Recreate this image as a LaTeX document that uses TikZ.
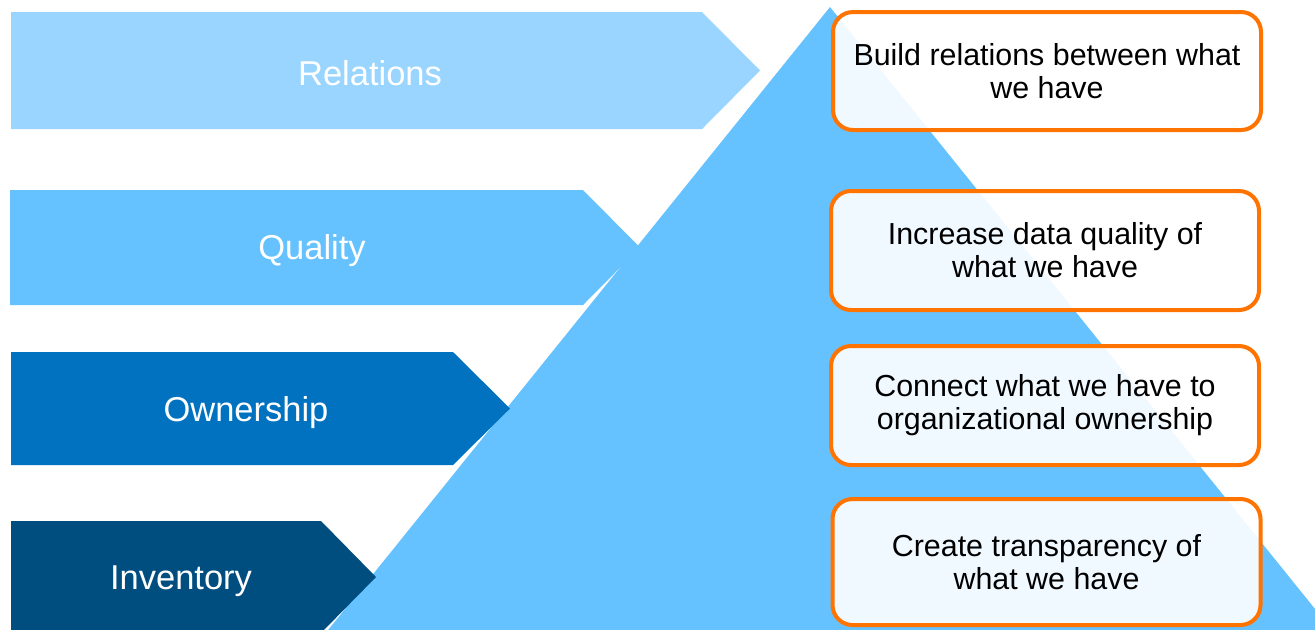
\documentclass[tikz,border=0pt]{standalone}
\usepackage{fontspec}
\setmainfont{Liberation Sans}
\definecolor{relc}{HTML}{99D5FF}
\definecolor{qualc}{HTML}{66C2FF}
\definecolor{ownc}{HTML}{0072BF}
\definecolor{invc}{HTML}{004E80}
\definecolor{boxorange}{HTML}{FF7300}
\begin{document}
\begin{tikzpicture}[x=0.5pt,y=-0.5pt,
  lbl/.style={text=white,font=\fontsize{17.25}{20}\selectfont,inner sep=0pt},
  goalbox/.style={draw=boxorange,line width=2pt,rounded corners=10pt,fill=white,fill opacity=0.9,text opacity=1,
    align=center,font=\fontsize{15.2}{16.6}\selectfont,minimum width=214pt,inner sep=0pt}]
\useasboundingbox (0,0) rectangle (1315,629);
\begin{scope}
\clip (0,0) rectangle (1315,629);
% pyramid
\fill[qualc] (830,7) -- (1340,640) -- (320,640) -- cycle;
% chevrons
\fill[relc] (11,12) -- (702,12) -- (760,70.5) -- (702,129) -- (11,129) -- cycle;
\fill[qualc] (10,190) -- (583,190) -- (640,247.5) -- (583,305) -- (10,305) -- cycle;
\fill[ownc] (11,352) -- (453,352) -- (510,408.5) -- (453,465) -- (11,465) -- cycle;
\fill[invc] (11,521) -- (321,521) -- (376,577) -- (321,633) -- (11,633) -- cycle;
\end{scope}
\node[lbl] (rel) at (370,73) {Relations};
\node[lbl] (qual) at (312,251) {Quality};
\node[lbl] (own) at (246,413) {Ownership};
\node[lbl] (inv) at (181,581) {Inventory};
% goal boxes
\node[goalbox,minimum height=59pt] (b1) at (1047,71) {Build relations between what\\ we have};
\node[goalbox,minimum height=59.5pt] (b2) at (1045,250.5) {Increase data quality of\\ what we have};
\node[goalbox,minimum height=59.5pt] (b3) at (1045,405.5) {Connect what we have to\\ organizational ownership};
\node[goalbox,minimum height=63pt] (b4) at (1046.5,562) {Create transparency of\\ what we have};
\end{tikzpicture}
\end{document}
